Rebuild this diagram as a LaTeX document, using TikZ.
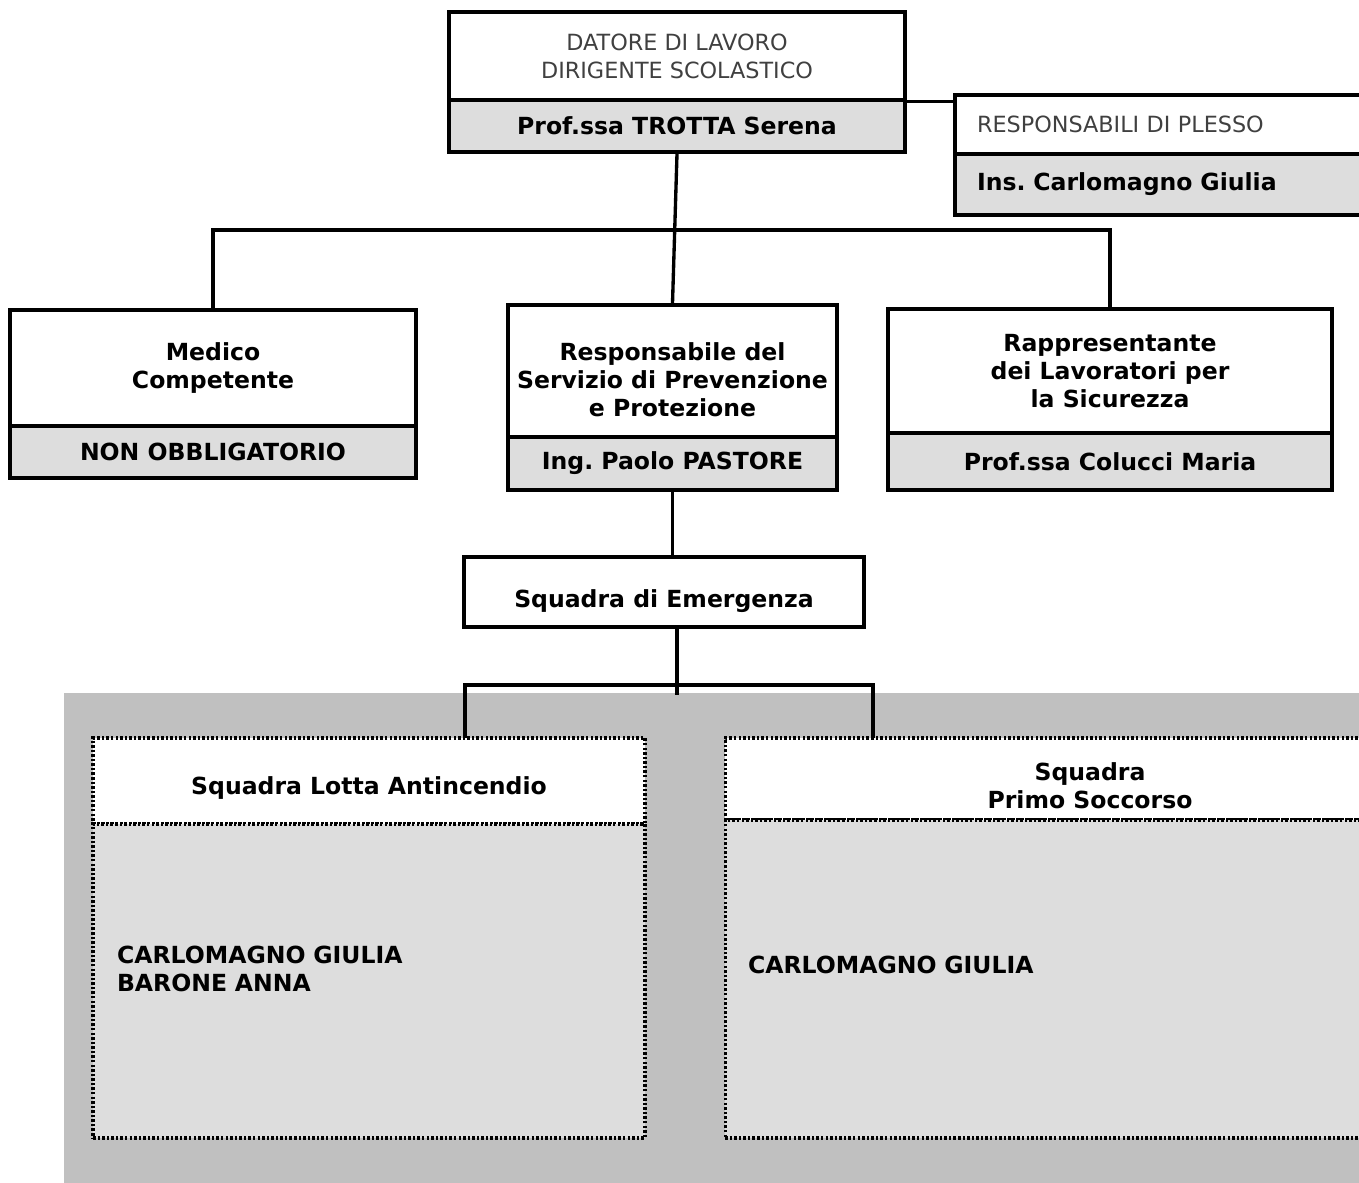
\documentclass[tikz,border=0pt]{standalone}
\usepackage{fontspec}
\setmainfont{DejaVu Sans}
\usetikzlibrary{positioning}

\definecolor{namegray}{HTML}{DDDDDD}
\definecolor{areagray}{HTML}{C0C0C0}

% struts to shift text inside the fixed boxes
\newcommand{\topstrut}[1]{\rule{0pt}{#1}}
\newcommand{\botstrut}[1]{\rule[-#1]{0pt}{#1}}

\begin{document}
\begin{tikzpicture}[x=0.02cm, y=-0.02cm,
    box/.style={draw, line width=1.9pt, inner sep=0pt, align=center,
        font=\frenchspacing\bfseries\fontsize{13.4}{15.9}\selectfont},
    headbox/.style={box, fill=white},
    namebox/.style={box, fill=namegray},
    lightbox/.style={box, fill=white, font=\fontsize{12.7}{15.9}\selectfont, text=black!75},
    dotbox/.style={draw, line width=1.8pt, dash pattern=on 1.4pt off 1.2pt, inner sep=0pt,
        font=\frenchspacing\bfseries\fontsize{13.4}{15.9}\selectfont},
    link/.style={line width=1.9pt}]

\clip (0,0) rectangle (1359,1183);
\fill[white] (0,0) rectangle (1359,1183);

% Datore di lavoro
\node[lightbox, minimum width=9.12cm, minimum height=1.76cm] (datore) at (677,56)
    {DATORE DI LAVORO\\DIRIGENTE SCOLASTICO};
\node[namebox, minimum width=9.12cm, minimum height=1.04cm] (datoreName) at (677,126)
    {Prof.ssa TROTTA Serena};

% Responsabili di plesso
\node[lightbox, minimum width=10cm, minimum height=1.18cm, text width=9.12cm,
    inner xsep=0.44cm, align=left] (plesso) at (1205,124.5) {RESPONSABILI DI PLESSO};
\node[namebox, minimum width=10cm, minimum height=1.22cm, text width=9.12cm,
    inner xsep=0.44cm, align=left] (plessoName) at (1205,184.5) {Ins. Carlomagno Giulia};

% Second level
\node[headbox, minimum width=8.12cm, minimum height=2.32cm] (medico) at (213,368)
    {Medico\\Competente};
\node[namebox, minimum width=8.12cm, minimum height=1.04cm] (medicoName) at (213,452)
    {NON OBBLIGATORIO};

\node[headbox, minimum width=6.58cm, minimum height=2.64cm] (rspp) at (672.5,371)
    {\topstrut{0.72cm}Responsabile del\\Servizio di Prevenzione\\e Protezione};
\node[namebox, minimum width=6.58cm, minimum height=1.06cm] (rsppName) at (672.5,463.5)
    {Ing. Paolo PASTORE};

\node[headbox, minimum width=8.88cm, minimum height=2.48cm] (rls) at (1110,371)
    {Rappresentante\\dei Lavoratori per\\la Sicurezza};
\node[namebox, minimum width=8.88cm, minimum height=1.14cm] (rlsName) at (1110,461.5)
    {Prof.ssa Colucci Maria};

% Squadra di emergenza
\node[headbox, minimum width=8cm, minimum height=1.4cm, text height=0.74cm] (emergenza) at (664,592)
    {Squadra di Emergenza};

% Area of the teams
\fill[areagray] (64,693) rectangle (1400,1200);

\node[dotbox, fill=white, minimum width=11.04cm, minimum height=1.72cm, text height=0.62cm] (antiHead) at (369,781)
    {Squadra Lotta Antincendio};
\node[dotbox, fill=namegray, minimum width=11.04cm, minimum height=6.28cm, text width=10.08cm,
    inner xsep=0.48cm, align=left] (antiBody) at (369,981)
    {CARLOMAGNO GIULIA\\BARONE ANNA\botstrut{0.48cm}};

\node[dotbox, fill=white, minimum width=14.6cm, minimum height=1.64cm, align=center] (soccHead) at (1090,779)
    {\topstrut{0.64cm}Squadra\\Primo Soccorso};
\node[dotbox, fill=namegray, minimum width=14.6cm, minimum height=6.36cm, text width=13.68cm,
    inner xsep=0.46cm, align=left, text depth=0.56cm] (soccBody) at (1090,979)
    {CARLOMAGNO GIULIA};

% Connectors
\coordinate (bus) at (676,230);
\coordinate (bus2) at (677,685);
\coordinate (dropL) at (465,738);
\coordinate (dropR) at (873,738);

\draw[link] (datoreName.south) -- (rspp.north);
\draw[link] (medico.north) |- (bus) -| (rls.north);
\draw[link] (datore.south east) -- (datore.south east -| plesso.west);
\draw[link] (rsppName.south) -- (rsppName.south |- emergenza.north);
\draw[link] (emergenza.south -| bus2) -- ++(0,66);
\draw[link] (dropL) |- (bus2) -| (dropR);

\end{tikzpicture}
\end{document}
